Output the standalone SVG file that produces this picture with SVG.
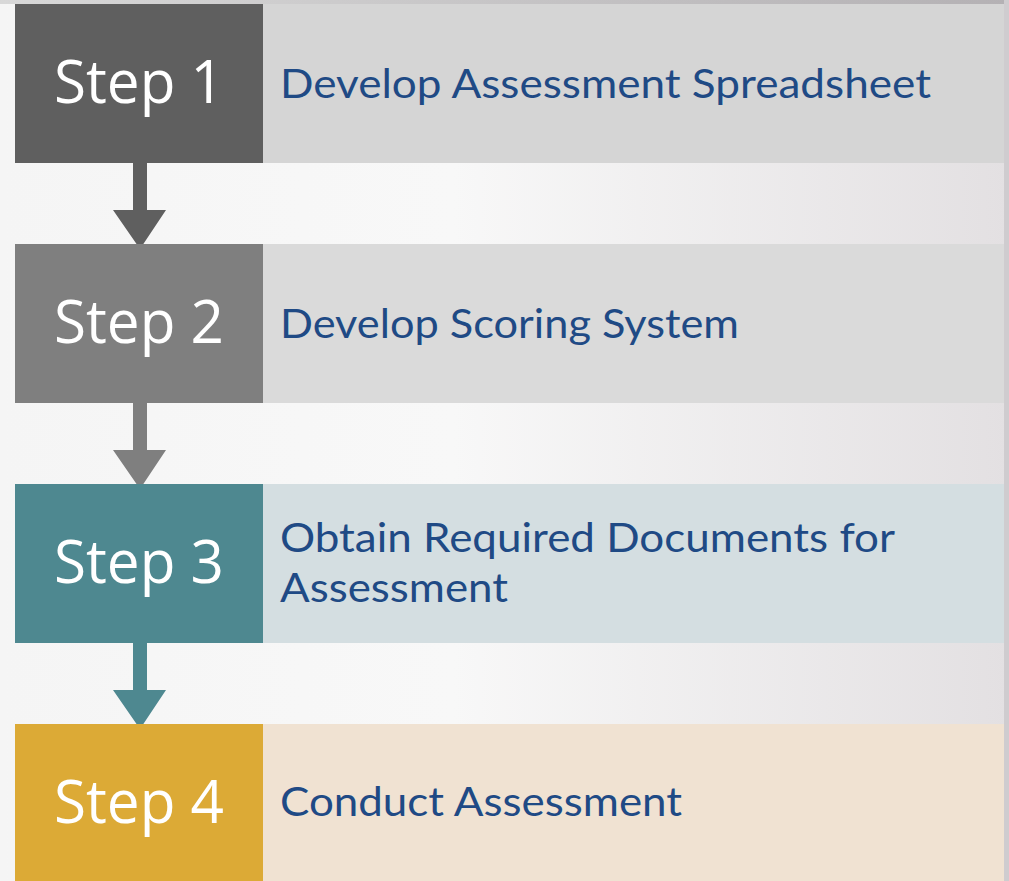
<svg xmlns="http://www.w3.org/2000/svg" width="1009" height="881" viewBox="0 0 1009 881">
  <defs>
    <linearGradient id="bg" x1="0" y1="0" x2="1" y2="0">
      <stop offset="0" stop-color="#f5f5f5"/>
      <stop offset="0.45" stop-color="#f8f8f8"/>
      <stop offset="1" stop-color="#e3e0e2"/>
    </linearGradient>
    <linearGradient id="topband" x1="0" y1="0" x2="1" y2="0">
      <stop offset="0" stop-color="#d8d8d8"/>
      <stop offset="1" stop-color="#b4b1b4"/>
    </linearGradient>
  </defs>
  <style>
    .step { font-family: "Open Sans", "Liberation Sans", sans-serif; font-size: 60px; fill: #ffffff; text-anchor: middle; }
    .desc { font-family: Lato, "Open Sans", "Liberation Sans", sans-serif; font-size: 41px; fill: #1f4a85; }
  </style>
  <rect x="0" y="0" width="1009" height="881" fill="url(#bg)"/>
  <rect x="0" y="0" width="1009" height="4" fill="url(#topband)"/>
  <rect x="1004" y="0" width="5" height="881" fill="#cfcccf"/>

  <g id="connectors">
    <path d="M133 163 H147 V210 H166 L140 249 L113 210 H133 Z" fill="#5f5f5f"/>
    <path d="M133 403 H147 V450 H166 L140 489 L113 450 H133 Z" fill="#7f7f7f"/>
    <path d="M133 643 H147 V690 H166 L140 729 L113 690 H133 Z" fill="#4e8890"/>
  </g>

  <g id="step1">
    <rect x="263" y="4" width="741" height="159" fill="#d5d5d5"/>
    <rect x="15" y="4" width="248" height="159" fill="#5f5f5f"/>
    <text class="step" x="139" y="103" textLength="170" lengthAdjust="spacingAndGlyphs">Step 1</text>
    <text class="desc" x="280" y="98" textLength="651" lengthAdjust="spacingAndGlyphs">Develop Assessment Spreadsheet</text>
  </g>

  <g id="step2">
    <rect x="263" y="244" width="741" height="159" fill="#dadada"/>
    <rect x="15" y="244" width="248" height="159" fill="#7f7f7f"/>
    <text class="step" x="139" y="343" textLength="170" lengthAdjust="spacingAndGlyphs">Step 2</text>
    <text class="desc" x="280" y="338" textLength="459" lengthAdjust="spacingAndGlyphs">Develop Scoring System</text>
  </g>

  <g id="step3">
    <rect x="263" y="484" width="741" height="159" fill="#d4dee1"/>
    <rect x="15" y="484" width="248" height="159" fill="#4e8890"/>
    <text class="step" x="139" y="583" textLength="170" lengthAdjust="spacingAndGlyphs">Step 3</text>
    <text class="desc" x="280" y="552" textLength="615" lengthAdjust="spacingAndGlyphs">Obtain Required Documents for</text>
    <text class="desc" x="280" y="602" textLength="228" lengthAdjust="spacingAndGlyphs">Assessment</text>
  </g>

  <g id="step4">
    <rect x="263" y="724" width="741" height="157" fill="#f0e2d2"/>
    <rect x="15" y="724" width="248" height="157" fill="#dcaa36"/>
    <text class="step" x="139" y="823" textLength="170" lengthAdjust="spacingAndGlyphs">Step 4</text>
    <text class="desc" x="280" y="816" textLength="402" lengthAdjust="spacingAndGlyphs">Conduct Assessment</text>
  </g>
</svg>
